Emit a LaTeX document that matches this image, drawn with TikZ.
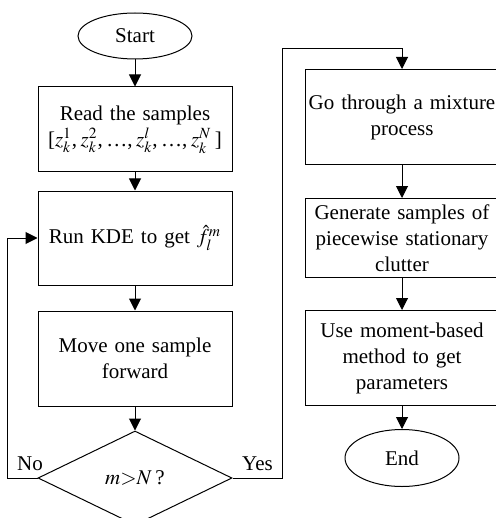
\documentclass[tikz,border=0pt]{standalone}
\usepackage{mathptmx}
\usepackage{fontspec}
\setmainfont{Liberation Serif}
\usetikzlibrary{shapes.geometric,arrows.meta,positioning}

\begin{document}
\begin{tikzpicture}[
    font=\fontsize{10.5}{13}\selectfont,
    startstop/.style={ellipse, draw=black, line width=0.5pt, minimum width=57pt, minimum height=23pt, inner sep=0pt},
    process/.style={rectangle, draw=black, line width=0.5pt, minimum width=97pt, text width=95pt, align=center, inner xsep=1pt, inner ysep=1pt},
    decision/.style={diamond, draw=black, line width=0.5pt, minimum width=97pt, minimum height=47pt, aspect=2, inner sep=0pt},
    arrow/.style={line width=0.5pt,-{Triangle[length=6pt,width=6pt]}}
]
\useasboundingbox (0,0) rectangle (248pt,-259pt);

% Left column
\node[startstop] (start) at (67.5pt,-18pt) {Start};
\node[process, minimum height=42.5pt, below=13.5pt of start] (read) {Read the samples\\\mbox{[$z_k^1$,\,$z_k^2$,\,\ldots,\,$z_k^l$,\,\ldots,\,$z_k^N$\,]}};
\node[process, minimum height=47pt, below=9pt of read] (kde) {Run KDE to get $\hat{f}_l^m$};
\node[process, minimum height=47.5pt, below=12.5pt of kde] (move) {Move one sample\\forward};
\node[decision, below=12pt of move] (check) {$m{>}N$\,?};

% Right column
\node[process, minimum height=47.5pt, anchor=north] (mix) at (201pt,-34.5pt) {Go through a mixture\\process};
\node[process, minimum height=39.5pt, below=16.5pt of mix] (gen) {Generate samples of\\piecewise stationary\\clutter};
\node[process, minimum height=47.5pt, below=16pt of gen] (moment) {Use moment-based\\method to get\\parameters};
\node[startstop, minimum height=28.5pt, below=11.5pt of moment] (stop) {End};

% Arrows
\draw[arrow] (start) -- (read);
\draw[arrow] (read) -- (kde);
\draw[arrow] (kde) -- (move);
\draw[arrow] (move) -- (check);
\draw[arrow] (check.west) -- node[above, pos=0.25] {No} ++(-15pt,0) |- (kde.west);
\draw[arrow] (check.east) -- node[above] {Yes} ++(25pt,0) |- ([yshift=10pt]mix.north) -- (mix.north);
\draw[arrow] (mix) -- (gen);
\draw[arrow] (gen) -- (moment);
\draw[arrow] (moment) -- (stop);

\end{tikzpicture}
\end{document}
